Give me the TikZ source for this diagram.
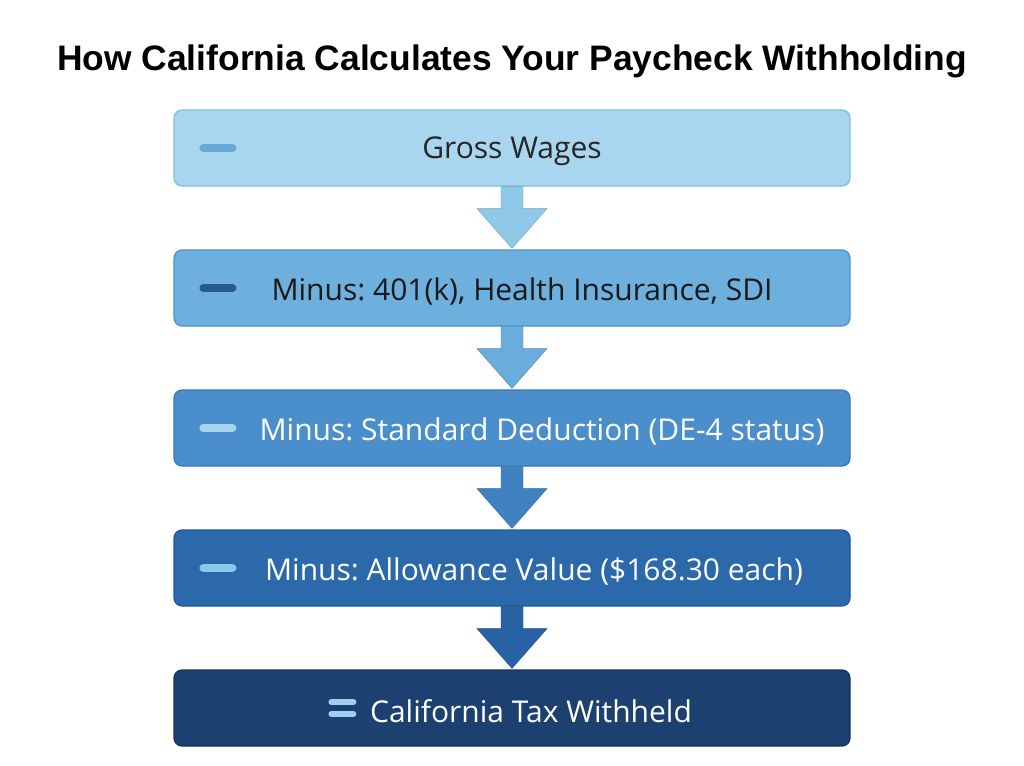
\documentclass[tikz,border=0pt]{standalone}
\usepackage{fontspec}
\setmainfont{Open Sans}
\newfontfamily\titlefont{Liberation Sans}
\usetikzlibrary{calc}

\definecolor{boxA}{HTML}{A8D6EF}
\definecolor{boxB}{HTML}{6DAFDD}
\definecolor{boxC}{HTML}{4A8FCB}
\definecolor{boxD}{HTML}{2B69AB}
\definecolor{boxE}{HTML}{1C406F}
\definecolor{lineA}{HTML}{82BEE2}
\definecolor{lineB}{HTML}{4C92C8}
\definecolor{lineC}{HTML}{3377B5}
\definecolor{lineD}{HTML}{215A96}
\definecolor{lineE}{HTML}{15325A}
\definecolor{arrA}{HTML}{90C8E9}
\definecolor{arrB}{HTML}{6AACDB}
\definecolor{arrC}{HTML}{3F82C1}
\definecolor{arrD}{HTML}{2862A5}
\definecolor{dashA}{HTML}{6AA8D6}
\definecolor{dashB}{HTML}{275B8C}
\definecolor{dashC}{HTML}{A6D5EE}
\definecolor{dashD}{HTML}{8CC8EE}
\definecolor{dashE}{HTML}{9FD0F0}

\tikzset{
    stage/.style={draw=#1, line width=1.2pt, rounded corners=8pt,
        minimum width=676pt, minimum height=76pt, inner sep=0pt},
    stagetext/.style={font=\fontsize{30}{36}\selectfont\frenchspacing, text=#1, inner sep=0pt},
    dashmark/.style={line width=8pt, line cap=round, draw=#1},
}

% block arrow between the bottom of one stage and the top of the next
\newcommand{\flowarrow}[3]{
    \fill[#3, draw=#3!80!black, line width=0.4pt]
        ($(#1.south)+(-11pt,0)$) -- ($(#1.south)+(11pt,0)$)
        -- ($(#1.south)+(11pt,-22pt)$) -- ($(#1.south)+(35pt,-22pt)$)
        -- ($(#2.north)+(0,1pt)$)
        -- ($(#1.south)+(-35pt,-22pt)$) -- ($(#1.south)+(-11pt,-22pt)$) -- cycle;
}

\begin{document}
\begin{tikzpicture}[x=1pt, y=-1pt]
    \useasboundingbox[fill=white] (0,0) rectangle (1024,765);

    % Title
    \node[font=\titlefont\fontsize{35.4}{40}\selectfont\bfseries] (title) at (512, 61)
    {How California Calculates Your Paycheck Withholding};

    % Stages
    \node[stage=lineA, fill=boxA] (gross) at (512, 148) {};
    \node[stage=lineB, fill=boxB] (pretax) at (512, 288) {};
    \node[stage=lineC, fill=boxC] (standard) at (512, 428) {};
    \node[stage=lineD, fill=boxD] (allowance) at (512, 568) {};
    \node[stage=lineE, fill=boxE] (withheld) at (512, 708) {};

    % Labels
    \node[stagetext=black!85] (grosslbl) at (512, 151) {Gross Wages};
    \node[stagetext=black!90] (pretaxlbl) at (522, 291)
    {Minus: 401(k), Health Insurance, SDI};
    \node[stagetext=white] (standardlbl) at (542, 431)
    {Minus: Standard Deduction (DE-4 status)};
    \node[stagetext=white] (allowancelbl) at (534, 571)
    {Minus: Allowance Value (\$168.30 each)};
    \node[stagetext=white] (withheldlbl) at (531, 711)
    {California Tax Withheld};

    % Dash marks
    \foreach \name/\col in {gross/dashA, pretax/dashB, standard/dashC, allowance/dashD} {
        \draw[dashmark=\col] ($(\name.west)+(30pt,0)$) -- ($(\name.west)+(59pt,0)$);
    }
    \draw[dashmark=dashE, line width=6pt] ($(withheld.west)+(158pt,-6pt)$) -- ($(withheld.west)+(180pt,-6pt)$);
    \draw[dashmark=dashE, line width=6pt] ($(withheld.west)+(158pt,6pt)$) -- ($(withheld.west)+(180pt,6pt)$);

    % Arrows
    \flowarrow{gross}{pretax}{arrA}
    \flowarrow{pretax}{standard}{arrB}
    \flowarrow{standard}{allowance}{arrC}
    \flowarrow{allowance}{withheld}{arrD}
\end{tikzpicture}
\end{document}
